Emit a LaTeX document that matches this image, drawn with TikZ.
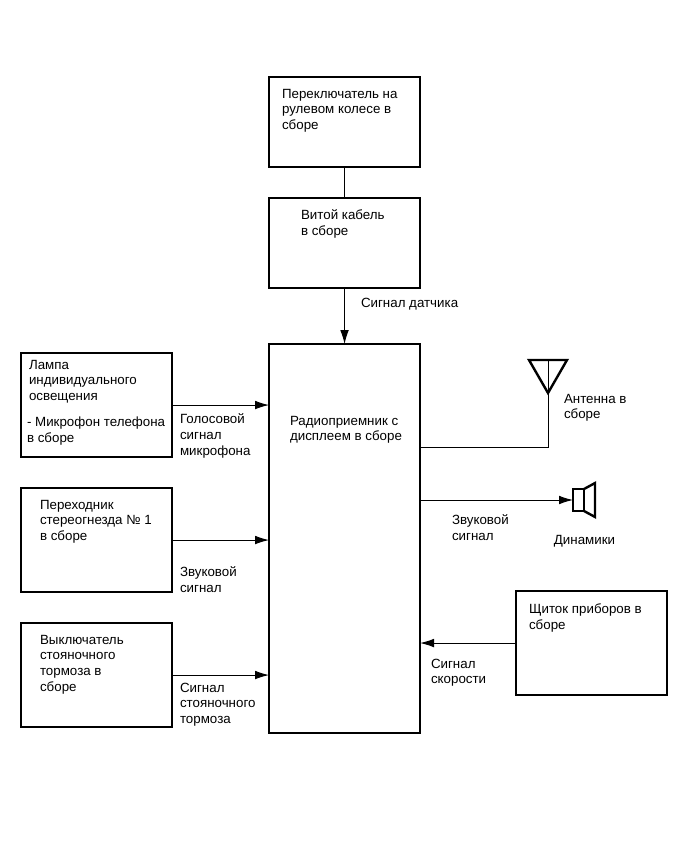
\documentclass[tikz,border=0pt]{standalone}
\usepackage{fontspec}
\setmainfont{Liberation Sans}
\usetikzlibrary{positioning,arrows.meta}
\tikzset{main node/.style={rectangle,draw,line width=1.8pt,outer sep=0pt,minimum width=113.25pt,minimum height=67.5pt,inner sep=0pt},
side node/.style={main node,minimum height=78pt},
text node/.style={inner sep=0pt,outer sep=0pt,align=left,font=\fontsize{10}{11.7}\selectfont},
signal/.style={draw,line width=.75pt,-{Latex[length=10.5pt,width=6.5pt]}},
}

\begin{document}
\begin{tikzpicture}
		\useasboundingbox (0,0) rectangle (517.5pt,-641.25pt);
		\node[main node,minimum height=291.75pt] (radio) at (258.4pt,-403.9pt) {};
		\node[main node] (cable) [above = 42pt of radio] {};
		\node[main node] (switch) [above = 23.25pt of cable] {};
		\node[side node] (lamp) [below left = 6.75pt and 72.75pt of radio.north west] {};
		\node[side node] (adapter) [below = 23.25pt of lamp] {};
		\node[side node] (brake) [below = 23.25pt of adapter] {};
		\node[side node] (panel) [below right = 185.25pt and 72pt of radio.north east] {};
		
		% texts in the boxes
		\node[text node] (switchtext) [below right = 9pt and 9.75pt of switch.north west] {Переключатель на\\рулевом колесе в\\сборе};
		\node[text node] (cabletext) [below right = 9pt and 24pt of cable.north west] {Витой кабель\\в сборе};
		\node[text node] (radiotext) [below right = 54pt and 15.75pt of radio.north west] {Радиоприемник с\\дисплеем в сборе};
		\node[text node] (lamptext) [below right = 5.25pt and 6pt of lamp.north west] {Лампа\\индивидуального\\освещения};
		\node[text node] (mictext) [below right = 48pt and 4.5pt of lamp.north west] {- Микрофон телефона\\в сборе};
		\node[text node] (adaptertext) [below right = 9pt and 14.25pt of adapter.north west] {Переходник\\стереогнезда № 1\\в сборе};
		\node[text node] (braketext) [below right = 9pt and 14.25pt of brake.north west] {Выключатель\\стояночного\\тормоза в\\сборе};
		\node[text node] (paneltext) [below right = 9.75pt and 9.75pt of panel.north west] {Щиток приборов в\\сборе};
		
		% antenna and speaker
		\coordinate (anttip) at (411pt,-294.75pt);
		\coordinate[above = 24.75pt of anttip] (anttop);
		\coordinate[left = 14.25pt of anttop] (antleft);
		\coordinate[right = 14.25pt of anttop] (antright);
		\draw[line width=1.8pt,line join=miter] (antleft) -- (antright) -- (anttip) -- cycle;
		\node[rectangle,draw,line width=1.8pt,outer sep=0pt,inner sep=0pt,minimum width=8.25pt,minimum height=16.5pt] (speaker) [right = 114.75pt of radio.east,yshift=28.9pt] {};
		\draw[line width=1.8pt] (speaker.north east) -- ++(8.25pt,4.5pt) -- ++(0,-25.5pt) -- (speaker.south east);
		
		\path[draw,line width=.75pt]
		(switch) -- (cable)
		(anttop) -- (anttip)
		([yshift=68.6pt]radio.east) -| (anttip);
		\path[signal] (cable) -- (radio);
		\path[signal] (lamp.east) -- (lamp.east -| radio.west);
		\path[signal] (adapter.east) -- (adapter.east -| radio.west);
		\path[signal] (brake.east) -- (brake.east -| radio.west);
		\path[signal] (panel.west) -- (panel.west -| radio.east);
		\path[signal] (speaker.west -| radio.east) -- (speaker.west);
		
		% signal labels
		\node[text node] (sensorlabel) [below right = 7.5pt and 69pt of cable.south west] {Сигнал датчика};
		\node[text node] (voicelabel) [below right = 45.75pt and 6pt of lamp.north east] {Голосовой\\сигнал\\микрофона};
		\node[text node] (soundlabel) [below right = 59.25pt and 6pt of adapter.north east] {Звуковой\\сигнал};
		\node[text node] (brakelabel) [below right = 45pt and 6pt of brake.north east] {Сигнал\\стояночного\\тормоза};
		\node[text node] (antlabel) [below right = .75pt and 12pt of anttip] {Антенна в\\сборе};
		\node[text node] (audiolabel) [below right = 128.25pt and 24pt of radio.north east] {Звуковой\\сигнал};
		\node[text node] (speakerlabel) [below = 18pt of speaker.south,xshift=4.5pt] {Динамики};
		\node[text node] (speedlabel) [below right = 236.25pt and 8.25pt of radio.north east] {Сигнал\\скорости};
		
	\end{tikzpicture}
\end{document}
